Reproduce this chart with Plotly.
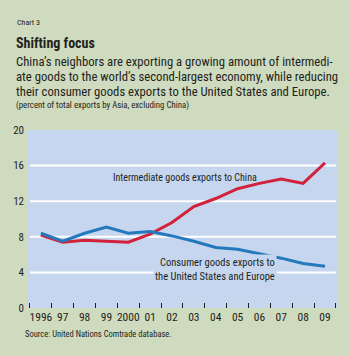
import plotly.graph_objects as go

years = ["1996", "97", "98", "99", "2000", "01", "02", "03", "04", "05", "06", "07", "08", "09"]
intermediate_china = [8.2, 7.4, 7.6, 7.5, 7.4, 8.3, 9.6, 11.4, 12.3, 13.4, 14.0, 14.5, 14.0, 16.3]
consumer_us_eu = [8.4, 7.5, 8.4, 9.1, 8.4, 8.6, 8.1, 7.5, 6.8, 6.6, 6.1, 5.6, 5.0, 4.7]
y_ticks = [0, 4, 8, 12, 16, 20]
grid_vals = [4, 8, 12, 16]

FONT = "Liberation Sans Narrow, Roboto Condensed, Arial Narrow, Liberation Sans, sans-serif"
TXT = "#231f20"
RED = "#d2213b"
BLUE = "#2479bd"
PLOT_BG = "#c6d6ee"
OUT_BG = "#cfdbbe"

W, H = 350, 356
L, R, T, B = 28, 13, 130, 48
pw, ph = W - L - R, H - T - B


def px(x):
    return (x - L) / pw


def py(y):
    return (H - B - y) / ph


fig = go.Figure()
fig.add_trace(go.Scatter(x=years, y=intermediate_china, mode="lines",
                         line=dict(color=RED, width=3), hoverinfo="skip"))
fig.add_trace(go.Scatter(x=years, y=consumer_us_eu, mode="lines",
                         line=dict(color=BLUE, width=3), hoverinfo="skip"))

n = len(years)
for g in grid_vals:
    fig.add_shape(type="line", xref="x", yref="y", x0=-0.5, x1=n - 0.5, y0=g, y1=g,
                  line=dict(color="white", width=2), layer="below")

fig.add_annotation(x=6.6, y=14.7, xref="x", yref="y", text="Intermediate goods exports to China",
                   showarrow=False, font=dict(family=FONT, size=10, color=TXT))
fig.add_annotation(x=10.8, y=4.35, xref="x", yref="y",
                   text="Consumer goods exports to<br>the United States and Europe",
                   showarrow=False, xanchor="right", align="right", bgcolor=PLOT_BG, borderpad=1,
                   font=dict(family=FONT, size=10.5, color=TXT))

# header texts
fig.add_annotation(x=px(15), y=py(22), xref="paper", yref="paper", text="Chart 3",
                   showarrow=False, xanchor="left", yanchor="middle",
                   font=dict(family=FONT, size=8, color=TXT))
fig.add_annotation(x=px(14), y=py(43), xref="paper", yref="paper", text="<b>Shifting focus</b>",
                   showarrow=False, xanchor="left", yanchor="middle",
                   font=dict(family=FONT, size=14, color=TXT))
sub = ["China’s neighbors are exporting a growing amount of intermedi-",
       "ate goods to the world’s second-largest economy, while reducing",
       "their consumer goods exports to the United States and Europe."]
for i, s in enumerate(sub):
    fig.add_annotation(x=px(14), y=py(61 + 15.3 * i), xref="paper", yref="paper", text=s,
                       showarrow=False, xanchor="left", yanchor="middle",
                       font=dict(family=FONT, size=12.7, color=TXT))
fig.add_annotation(x=px(14), y=py(106), xref="paper", yref="paper",
                   text="(percent of total exports by Asia, excluding China)",
                   showarrow=False, xanchor="left", yanchor="middle",
                   font=dict(family=FONT, size=8.8, color=TXT))
fig.add_annotation(x=px(23), y=py(334), xref="paper", yref="paper",
                   text="Source: United Nations Comtrade database.",
                   showarrow=False, xanchor="left", yanchor="middle",
                   font=dict(family=FONT, size=8.5, color=TXT))

fig.update_layout(
    width=W, height=H, margin=dict(l=L, r=R, t=T, b=B),
    paper_bgcolor=OUT_BG, plot_bgcolor=PLOT_BG, showlegend=False,
    font=dict(family=FONT, color=TXT),
    xaxis=dict(type="category", range=[-0.59, n - 0.45], tickson="boundaries",
               ticks="inside", ticklen=5, tickwidth=1.3, tickcolor=TXT, tickangle=0,
               showgrid=False, showline=False, zeroline=False,
               tickfont=dict(family=FONT, size=11.5, color=TXT)),
    yaxis=dict(range=[0, 20], tickvals=y_ticks, showgrid=False, zeroline=False,
               showline=False, ticks="", ticklabelstandoff=3,
               tickfont=dict(family=FONT, size=11, color=TXT)),
)

fig.write_html("out.html")
